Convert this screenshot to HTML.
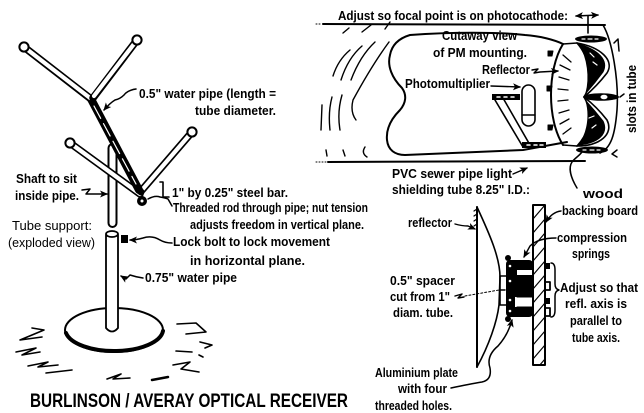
<!DOCTYPE html>
<html><head><meta charset="utf-8"><style>
html,body{margin:0;padding:0;background:#fff;}
svg{display:block}
text{font-family:"Liberation Sans",Arial,sans-serif;font-weight:bold;font-size:12.5px;fill:#000;stroke:none}
text.r{font-weight:normal}
</style></head><body>
<svg width="644" height="413" viewBox="0 0 644 413" xmlns="http://www.w3.org/2000/svg">
<defs>
<marker id="ah" markerWidth="8" markerHeight="8" refX="7" refY="4" orient="auto" markerUnits="userSpaceOnUse"><path d="M0,0.5 L8,4 L0,7.5 L2,4 Z" fill="#000"/></marker>
<marker id="as" markerWidth="8" markerHeight="8" refX="1" refY="4" orient="auto" markerUnits="userSpaceOnUse"><path d="M8,0.5 L0,4 L8,7.5 L6,4 Z" fill="#000"/></marker>
<clipPath id="bc"><rect x="533" y="205" width="12" height="160"/></clipPath>
</defs>

<!-- ================= LEFT: TUBE SUPPORT ================= -->
<g fill="none" stroke="#000" stroke-linecap="round" stroke-linejoin="round">
  <!-- shaft -->
  <line x1="112.5" y1="148" x2="112.5" y2="223" stroke-width="10"/>
  <line x1="112.5" y1="148" x2="112.5" y2="223" stroke="#fff" stroke-width="6"/>
  <!-- lower V -->
  <line x1="70" y1="143" x2="140" y2="194" stroke-width="7.5"/>
  <line x1="70" y1="143" x2="140" y2="194" stroke="#fff" stroke-width="4.2"/>
  <line x1="192" y1="132" x2="142" y2="190" stroke-width="7.5"/>
  <line x1="192" y1="132" x2="142" y2="190" stroke="#fff" stroke-width="4.2"/>
  <!-- stem of upper Y -->
  <line x1="91" y1="99" x2="139" y2="190" stroke-width="8"/>
  <line x1="94" y1="106" x2="136" y2="184" stroke="#fff" stroke-width="1.2" stroke-dasharray="14 6"/>
  <!-- upper arms -->
  <line x1="24" y1="47" x2="91" y2="99" stroke-width="7.5"/>
  <line x1="24" y1="47" x2="90" y2="98" stroke="#fff" stroke-width="4.2"/>
  <line x1="137" y1="40" x2="93" y2="98" stroke-width="7.5"/>
  <line x1="137" y1="40" x2="94" y2="96" stroke="#fff" stroke-width="4.2"/>
  <!-- end openings -->
  <circle cx="24" cy="47" r="4.6" fill="#fff" stroke-width="2"/>
  <circle cx="137" cy="40" r="4.6" fill="#fff" stroke-width="2"/>
  <circle cx="70" cy="143" r="4.6" fill="#fff" stroke-width="2"/>
  <circle cx="192" cy="132" r="4.6" fill="#fff" stroke-width="2"/>
  <!-- nut at vertex -->
  <circle cx="141" cy="192" r="3" fill="#000" stroke-width="1"/>
  <circle cx="142" cy="201" r="4.5" fill="#000" stroke-width="1"/>
  <circle cx="142" cy="201" r="1.5" fill="#fff" stroke="none"/>

  <!-- base disc -->
  <ellipse cx="114" cy="330" rx="49" ry="22" stroke-width="2"/>
  <path d="M66,333 A49,22 0 0 0 163,331" stroke-width="4"/>
  <!-- support pipe -->
  <path d="M106,235 L106,328 Q112,335 118,328 L118,235" fill="#fff" stroke-width="1.8"/>
  <ellipse cx="112" cy="234" rx="6" ry="3" fill="#fff" stroke-width="1.8"/>
  <rect x="121" y="235" width="7" height="8" fill="#000" stroke="none"/>

  <!-- shadow scribbles -->
  <g stroke-width="1.6">
    <path d="M32,328 L44,330 L20,340 L42,337"/>
    <path d="M16,352 L36,348 L22,355 L40,352"/>
    <path d="M28,366 L48,362 L38,367 L58,365"/>
    <path d="M46,373 L72,370"/>
    <path d="M107,379 L121,374 L113,379 L130,378"/>
    <path d="M152,380 L168,377" stroke-width="2.5"/>
    <path d="M177,324 L196,323 L206,332 L186,334"/>
    <path d="M200,342 L212,345 L205,348"/>
    <path d="M176,351 L192,352"/>
    <path d="M199,355 L203,357"/>
    <path d="M173,365 L190,362 L181,369 L199,372"/>
  </g>

  <!-- pointers -->
  <path d="M136,89 Q128,90 124,95 Q120,99 115,100 Q110,103 104,110" stroke-width="1.5" marker-end="url(#ah)"/>
  <path d="M82,190 L90,189 L86,194 Q95,194 107,194" stroke-width="1.5" marker-end="url(#ah)"/>
  <path d="M160,182 L163,182 L163,197 L169,197" stroke-width="1.6"/>
  <path d="M148,199 Q155,195 160,197 Q166,198 168,199 L172,206" stroke-width="1.5"/>
  <path d="M172,243 Q165,243 160,240 Q152,235 143,238 Q136,240 130,240" stroke-width="1.5" marker-end="url(#ah)"/>
  <path d="M143,278 Q136,277 130,275 L126,279 L121,276" stroke-width="1.5" marker-end="url(#ah)"/>
</g>

<!-- left labels -->
<text x="139" y="98" textLength="137" lengthAdjust="spacingAndGlyphs">0.5" water pipe (length =</text>
<text x="195" y="115" textLength="81" lengthAdjust="spacingAndGlyphs">tube diameter.</text>
<text x="16" y="183" textLength="61" lengthAdjust="spacingAndGlyphs">Shaft to sit</text>
<text x="15" y="200" textLength="64" lengthAdjust="spacingAndGlyphs">inside pipe.</text>
<text x="172" y="197" textLength="116" lengthAdjust="spacingAndGlyphs">1" by 0.25" steel bar.</text>
<text x="173" y="212" textLength="195" lengthAdjust="spacingAndGlyphs">Threaded rod through pipe; nut tension</text>
<text x="190" y="229" textLength="174" lengthAdjust="spacingAndGlyphs">adjusts freedom in vertical plane.</text>
<text class="r" x="12" y="230" textLength="80" lengthAdjust="spacingAndGlyphs">Tube support:</text>
<text class="r" x="8" y="247" textLength="87" lengthAdjust="spacingAndGlyphs">(exploded view)</text>
<text x="173" y="246" textLength="157" lengthAdjust="spacingAndGlyphs">Lock bolt to lock movement</text>
<text x="190" y="265" textLength="115" lengthAdjust="spacingAndGlyphs">in horizontal plane.</text>
<text x="145" y="282" textLength="92" lengthAdjust="spacingAndGlyphs">0.75" water pipe</text>
<text x="30" y="407" style="font-size:19px" textLength="318" lengthAdjust="spacingAndGlyphs">BURLINSON / AVERAY OPTICAL RECEIVER</text>

<!-- ================= RIGHT TOP: TUBE ================= -->
<g fill="none" stroke="#000" stroke-linecap="round" stroke-linejoin="round">
  <path d="M316,24 L322,24" stroke-width="1" stroke-dasharray="1 2"/>
  <path d="M323,24 L605,25" stroke-width="2"/>
  <path d="M603,25 C612,40 619,80 617,110 C615,135 611,148 600,153" stroke-width="1.6"/>
  <path d="M316,162 L326,162" stroke-width="1" stroke-dasharray="1 2"/>
  <path d="M328,162 L585,161" stroke-width="2"/>

  <!-- wavy lines -->
  <g stroke-width="1.4">
    <path d="M343,33 L349,28"/>
    <path d="M362,32 L371,25"/>
    <path d="M385,29 L390,22"/>
    <path d="M350,50 Q338,60 333,76"/>
    <path d="M362,46 Q348,58 341,80"/>
    <path d="M375,42 Q360,56 351,80"/>
    <path d="M389,42 Q372,65 353,100 Q350,112 356,120"/>
    <path d="M322,105 L321,130"/>
    <path d="M332,97 Q328,112 330,130"/>
    <path d="M342,95 Q337,112 340,130"/>
    <path d="M326,150 L327,156"/>
    <path d="M343,150 L345,156"/>
    <path d="M365,147 Q361,153 367,157"/>
  </g>

  <!-- cutaway blob -->
  <path d="M563,44 C555,40 540,36 525,35 C500,32 450,32 410,35 C400,38 392,44 390,55 C387,66 392,78 402,88 C407,95 406,103 400,110 C390,120 386,130 387,140 C388,150 395,155 405,155 L523,150 L567,142" stroke-width="2"/>

  <!-- reflector -->
  <path d="M563,44 C547,70 547,120 563,145" stroke-width="2"/>
  <path d="M563,44 L577,43 M563,145 L577,146" stroke-width="1.6"/>
  <path d="M577,43 C592,60 592,85 584,97 C592,110 592,130 577,146" stroke-width="1.6"/>
  <path d="M577,43 C600,47 615,60 607,73 Q597,86 584,97 Q597,107 607,120 C614,134 600,146 577,146" stroke-width="1.6"/>
  <path d="M579,44 C598,50 609,60 603,72 Q595,83 586,93 C590,78 588,58 579,44 Z" fill="#000" stroke-width="1"/>
  <path d="M586,101 Q595,111 603,121 C609,134 598,143 579,145 C588,132 590,115 586,101 Z" fill="#000" stroke-width="1"/>
  <g stroke="#fff" stroke-width="1.2">
    <path d="M590,53 l4,4 M593,62 l4,3 M589,118 l5,-2 M592,128 l4,-3"/>
  </g>
  <g stroke-width="1.3">
    <path d="M563,55 l8,7 M560,65 l10,5 M559,77 l10,3 M558,89 l10,1 M558,101 l10,-1 M559,113 l10,-3 M560,124 l9,-5 M563,134 l8,-6"/>
  </g>

  <!-- bolts -->
  <ellipse cx="591" cy="39" rx="16" ry="3.5" fill="#000" stroke="none"/>
  <path d="M582,39 l3,0 M588,39 l4,0 M595,39 l3,0" stroke="#fff" stroke-width="1.2"/>
  <ellipse cx="601" cy="97" rx="18" ry="3.8" fill="#000" stroke="none"/>
  <ellipse cx="604" cy="97" rx="3.5" ry="2.3" fill="#fff" stroke="none"/>
  <ellipse cx="592" cy="150" rx="16" ry="3.5" fill="#000" stroke="none"/>
  <path d="M583,150 l3,0 M590,150 l4,0 M597,150 l3,0" stroke="#fff" stroke-width="1.2"/>
  <!-- pins -->
  <path d="M548,51 l5,0 l-1,5 l-4,0 Z M547,86 l5,0 l-1,5 l-4,0 Z M548,125 l5,0 l-1,5 l-4,0 Z" fill="#000" stroke-width="1"/>

  <!-- photomultiplier -->
  <rect x="522" y="85" width="13" height="41" rx="6.5" fill="#fff" stroke-width="1.6"/>
  <path d="M522,115 L535,115" stroke-width="1.4"/>
  <path d="M495,100 L523,147 M503,98 L530,145" stroke-width="1.6"/>
  <rect x="492" y="94" width="28" height="6" fill="#000" stroke="none"/>
  <path d="M497,97 l3,0 M504,97 l3,0 M511,97 l3,0" stroke="#fff" stroke-width="1.5"/>
  <rect x="522" y="142" width="24" height="6" fill="#000" stroke="none"/>
  <path d="M527,145 l3,0 M534,145 l3,0 M540,145 l3,0" stroke="#fff" stroke-width="1.5"/>

  <!-- pointers -->
  <path d="M491,86 L520,87" stroke-width="1.4" marker-end="url(#ah)"/>
  <path d="M532,70 L538,69 L534,73 L540,72 L558,71" stroke-width="1.4" marker-end="url(#ah)"/>
  <path d="M513,174 L527,168" stroke-width="1.4" marker-end="url(#ah)"/>
  <path d="M576,16 L598,15" stroke-width="1.6" marker-end="url(#ah)" marker-start="url(#as)"/>
  <path d="M588,16 L588,33" stroke-width="1.6"/>
  <path d="M619,51 L618,39 L614,43" stroke-width="1.5"/>
  <path d="M620,97 L624,94" stroke-width="1.5"/>
  <path d="M617,150 L612,154 L617,157" stroke-width="1.5"/>
  <path d="M577,188 C571,178 568,168 572,162 C575,158 579,156 582,152" stroke-width="1.5"/>
</g>

<!-- right top labels -->
<text x="338" y="20" textLength="230" lengthAdjust="spacingAndGlyphs">Adjust so focal point is on photocathode:</text>
<text x="442" y="40" textLength="75" lengthAdjust="spacingAndGlyphs">Cutaway view</text>
<text x="433" y="57" textLength="94" lengthAdjust="spacingAndGlyphs">of PM mounting.</text>
<text x="482" y="74" textLength="48" lengthAdjust="spacingAndGlyphs">Reflector</text>
<text x="405" y="88" textLength="85" lengthAdjust="spacingAndGlyphs">Photomultiplier</text>
<text x="392" y="178" textLength="120" lengthAdjust="spacingAndGlyphs">PVC sewer pipe light</text>
<text x="392" y="194" textLength="138" lengthAdjust="spacingAndGlyphs">shielding tube 8.25" I.D.:</text>
<text transform="translate(636,133) rotate(-90)" textLength="68" lengthAdjust="spacingAndGlyphs">slots in tube</text>
<text x="583" y="198" textLength="40" lengthAdjust="spacingAndGlyphs">wood</text>

<!-- ================= RIGHT BOTTOM: SIDE VIEW ================= -->
<g fill="none" stroke="#000" stroke-linecap="round" stroke-linejoin="round">
  <!-- reflector side -->
  <path d="M477,207 L477,367" stroke-width="2"/>
  <path d="M477,207 C490,235 500,258 500,277 L499,305 C497,322 489,345 477,367" stroke-width="1.6"/>
  <path d="M474,211 l3,-2 M474,216 l3,-2 M474,221 l3,-2 M474,226 l3,-2" stroke-width="1.2"/>
  <!-- spacer -->
  <path d="M500,276 L507,276 M500,305 L507,305 M500,276 L500,305" stroke-width="1.6"/>
  <path d="M500,290 L505,290" stroke-width="1.4"/>
  <!-- plate + springs -->
  <rect x="506" y="260" width="27" height="57" rx="4" fill="#000" stroke="none"/>
  <rect x="517" y="270" width="15" height="5" fill="#fff" stroke="none"/>
  <rect x="515" y="297" width="17" height="10" fill="#fff" stroke="none"/>
  <path d="M517,297 l15,0 M517,307 l15,0" stroke="#000" stroke-width="1"/>
  <circle cx="510" cy="266" r="1.3" fill="#fff" stroke="none"/>
  <circle cx="510" cy="281" r="1.3" fill="#fff" stroke="none"/>
  <circle cx="510" cy="300" r="1.3" fill="#fff" stroke="none"/>
  <circle cx="510" cy="311" r="1.3" fill="#fff" stroke="none"/>
  <circle cx="508" cy="258" r="3" fill="#000" stroke="none"/>
  <circle cx="508" cy="319" r="3" fill="#000" stroke="none"/>
  <!-- board -->
  <rect x="533" y="205" width="12" height="160" fill="#fff" stroke-width="2"/>
  <g clip-path="url(#bc)" stroke-width="1.2">
    <path d="M533,219 L545,205 M533,233 L545,219 M533,247 L545,233 M533,261 L545,247 M533,275 L545,261 M533,289 L545,275 M533,303 L545,289 M533,317 L545,303 M533,331 L545,317 M533,345 L545,331 M533,359 L545,345 M533,373 L545,359"/>
  </g>
  <!-- nuts -->
  <rect x="545" y="263" width="5" height="6" fill="#000" stroke="none"/>
  <path d="M545,282 l5,0 l0,8 l-5,0" stroke-width="1.8"/>
  <rect x="545" y="298" width="5" height="6" fill="#000" stroke="none"/>
  <path d="M545,308 l5,0 l0,8 l-5,0" stroke-width="1.8"/>
  <!-- brace -->
  <path d="M551,263 Q555,263 555,270 L555,284 Q555,289 559,290 Q555,291 555,296 L555,310 Q555,317 551,317" stroke-width="1.5"/>

  <!-- pointers -->
  <path d="M455,224 Q462,226 468,226 L475,229" stroke-width="1.4" marker-end="url(#ah)"/>
  <path d="M561,211 Q552,212 546,222" stroke-width="1.4" marker-end="url(#ah)"/>
  <path d="M556,238 Q538,238 530,246 L524,257" stroke-width="1.4" marker-end="url(#ah)"/>
  <path d="M455,296 L462,294 L458,298 L464,297" stroke-width="1.4"/>
  <path d="M465,296 L499,290" stroke-width="1" stroke-dasharray="2 2"/>
  <path d="M451,388 Q470,384 482,382 Q492,380 490,368 Q486,356 498,346 Q508,335 512,320" stroke-width="1.5" marker-end="url(#ah)"/>
</g>

<!-- right bottom labels -->
<text x="562" y="215" textLength="76" lengthAdjust="spacingAndGlyphs">backing board</text>
<text x="408" y="227" textLength="44" lengthAdjust="spacingAndGlyphs">reflector</text>
<text x="557" y="242" textLength="70" lengthAdjust="spacingAndGlyphs">compression</text>
<text x="572" y="258" textLength="38" lengthAdjust="spacingAndGlyphs">springs</text>
<text x="560" y="292" textLength="78" lengthAdjust="spacingAndGlyphs">Adjust so that</text>
<text x="565" y="308" textLength="62" lengthAdjust="spacingAndGlyphs">refl. axis is</text>
<text x="570" y="325" textLength="52" lengthAdjust="spacingAndGlyphs">parallel to</text>
<text x="572" y="342" textLength="48" lengthAdjust="spacingAndGlyphs">tube axis.</text>
<text x="390" y="285" textLength="65" lengthAdjust="spacingAndGlyphs">0.5" spacer</text>
<text x="390" y="301" textLength="60" lengthAdjust="spacingAndGlyphs">cut from 1"</text>
<text x="393" y="317" textLength="60" lengthAdjust="spacingAndGlyphs">diam. tube.</text>
<text x="375" y="377" textLength="83" lengthAdjust="spacingAndGlyphs">Aluminium plate</text>
<text x="398" y="393" textLength="49" lengthAdjust="spacingAndGlyphs">with four</text>
<text x="375" y="410" textLength="77" lengthAdjust="spacingAndGlyphs">threaded holes.</text>
</svg>
</body></html>
